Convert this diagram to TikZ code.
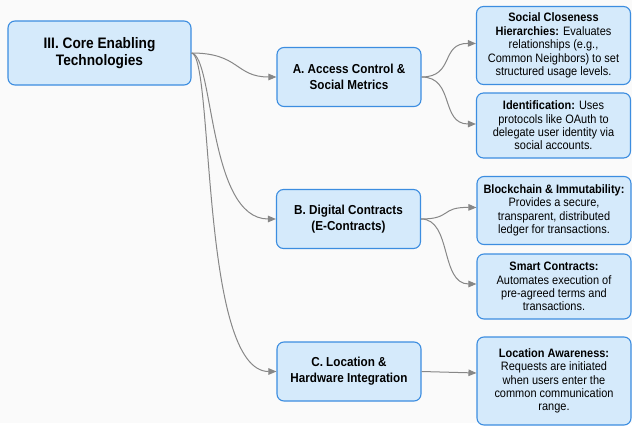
\documentclass[tikz,border=0pt]{standalone}
\usepackage{fontspec}
\setmainfont[FakeStretch=0.9]{Liberation Sans}
\usetikzlibrary{arrows.meta,positioning}

\definecolor{boxfill}{HTML}{D5EAFB}
\definecolor{boxline}{HTML}{3C8DE0}
\definecolor{linkgray}{HTML}{878787}
\definecolor{paper}{HTML}{FAFAFA}

\begin{document}
\begin{tikzpicture}[
            x = 1pt, y = -1pt,
            > = {Triangle[length=8pt,width=6.5pt]}, % arrow head style
            semithick % line style
        ]

        \tikzstyle{every topic}=[
            draw = boxline,
            fill = boxfill,
            line width = 1.1pt,
            rounded corners = 7pt,
            align = center,
            inner sep = 2pt
        ]
        \tikzstyle{root}=[every topic, minimum width = 183pt, minimum height = 64pt,
            font = \fontsize{15.2}{16.8}\selectfont\bfseries]
        \tikzstyle{branch}=[every topic, minimum width = 144pt, minimum height = 59pt,
            font = \fontsize{13}{15.8}\selectfont\bfseries]
        \tikzstyle{leaf}=[every topic, minimum width = 154pt,
            font = \fontsize{12.2}{13.4}\selectfont]
        \tikzstyle{link}=[->, draw = linkgray, line width = 1pt]

        \fill[paper] (0,0) rectangle (632,423);

        \node[root] (core) at (99.5,53) {III. Core Enabling\\Technologies};

        \node[branch] (access) at (349,77) {A. Access Control \&\\Social Metrics};
        \node[branch] (contracts) at (348.5,219) {B. Digital Contracts\\(E-Contracts)};
        \node[branch] (location) at (349,371.5) {C. Location \&\\Hardware Integration};

        \node[leaf, minimum height = 78pt] (closeness) at (553.5,45.5)
            {\textbf{Social Closeness}\\\textbf{Hierarchies:} Evaluates\\relationships (e.g.,\\Common Neighbors) to set\\structured usage levels.};
        \node[leaf, minimum height = 65pt] (ident) at (553.5,125.5)
            {\textbf{Identification:} Uses\\protocols like OAuth to\\delegate user identity via\\social accounts.};
        \node[leaf, minimum height = 68pt] (chain) at (554,210.5)
            {\textbf{Blockchain \& Immutability:}\\Provides a secure,\\transparent, distributed\\ledger for transactions.};
        \node[leaf, minimum height = 65pt] (smart) at (554,286.5)
            {\textbf{Smart Contracts:}\\Automates execution of\\pre-agreed terms and\\transactions.};
        \node[leaf, minimum height = 88pt] (aware) at (554,381)
            {\textbf{Location Awareness:}\\Requests are initiated\\when users enter the\\common communication\\range.};

        \draw[link] (core.east) .. controls (240,53) and (235,77) .. (access.west);
        \draw[link] (core.east) .. controls (214,56) and (208,219) .. (contracts.west);
        \draw[link] (core.east) .. controls (214,56) and (200,371.5) .. (location.west);

        \draw[link] (access.east) .. controls (455,77) and (440,43) .. ([yshift=2pt]closeness.west);
        \draw[link] (access.east) .. controls (455,77) and (440,124) .. ([yshift=1.5pt]ident.west);
        \draw[link] (contracts.east) .. controls (452,219) and (440,207) .. ([yshift=3pt]chain.west);
        \draw[link] (contracts.east) .. controls (452,219) and (440,284) .. ([yshift=2.5pt]smart.west);
        \draw[link] (location.east) -- ([yshift=8pt]aware.west);

    \end{tikzpicture}
\end{document}
